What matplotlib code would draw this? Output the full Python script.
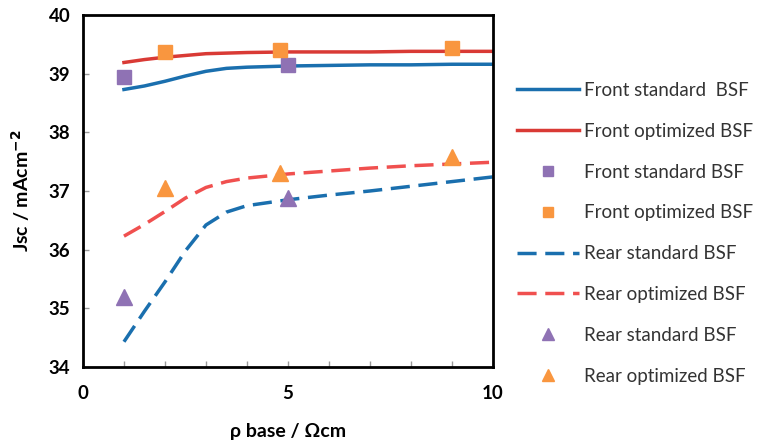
import numpy as np
import matplotlib
matplotlib.use("Agg")
import matplotlib.pyplot as plt

plt.rcParams['font.family'] = ['Lato', 'DejaVu Sans']

# curves
curve_x = [1, 1.5, 2, 2.5, 3, 3.5, 4, 5, 6, 7, 8, 9, 10]
front_std_line = [38.73, 38.79, 38.87, 38.96, 39.04, 39.09, 39.11, 39.13, 39.14, 39.15, 39.15, 39.16, 39.16]
front_opt_line = [39.19, 39.24, 39.28, 39.31, 39.34, 39.35, 39.36, 39.37, 39.37, 39.37, 39.38, 39.38, 39.38]
rear_std_line = [34.43, 34.95, 35.45, 35.98, 36.42, 36.64, 36.75, 36.85, 36.93, 37.0, 37.08, 37.16, 37.24]
rear_opt_line = [36.23, 36.43, 36.65, 36.88, 37.06, 37.16, 37.22, 37.29, 37.34, 37.39, 37.43, 37.46, 37.49]

# measured points
front_std_x = [1, 5]
front_std_y = [38.95, 39.15]
front_opt_x = [2, 4.8, 9]
front_opt_y = [39.37, 39.4, 39.43]
rear_std_x = [1, 5]
rear_std_y = [35.2, 36.88]
rear_opt_x = [2, 4.8, 9]
rear_opt_y = [37.05, 37.3, 37.58]

blue = '#1a6fae'
red = '#d93a35'
red_dash = '#f0504f'
purple = '#8f72b4'
orange = '#f9963f'
dash = (0, (5.5, 2.5))

fig = plt.figure(figsize=(7.64, 4.43), dpi=100)
ax = fig.add_axes([0.1086, 0.1716, 0.5366, 0.7946])

h1, = ax.plot(curve_x, front_std_line, color=blue, lw=2.5, label='Front standard  BSF')
h2, = ax.plot(curve_x, front_opt_line, color=red, lw=2.5, label='Front optimized BSF')
h3, = ax.plot(front_std_x, front_std_y, 's', color=purple, ms=10.5, ls='none', label='Front standard BSF')
h4, = ax.plot(front_opt_x, front_opt_y, 's', color=orange, ms=10.5, ls='none', label='Front optimized BSF')
h5, = ax.plot(curve_x, rear_std_line, color=blue, lw=2.5, ls=dash, label='Rear standard BSF')
h6, = ax.plot(curve_x, rear_opt_line, color=red_dash, lw=2.5, ls=dash, label='Rear optimized BSF')
h7, = ax.plot(rear_std_x, rear_std_y, '^', color=purple, ms=11, ls='none', label='Rear standard BSF')
h8, = ax.plot(rear_opt_x, rear_opt_y, '^', color=orange, ms=11, ls='none', label='Rear optimized BSF')

ax.set_xlim(0, 10)
ax.set_ylim(34, 40)
ax.set_xticks([0, 5, 10])
ax.set_xticks(range(0, 11), minor=True)
ax.set_yticks(range(34, 41))
ax.tick_params(which='both', direction='in', length=4, color='#999999', width=1)
ax.tick_params(axis='x', which='major', pad=13)
ax.tick_params(axis='y', which='major', pad=9)
for lab in ax.get_xticklabels() + ax.get_yticklabels():
    lab.set_fontsize(13.5)
    lab.set_fontweight('bold')
for s in ax.spines.values():
    s.set_linewidth(2)
    s.set_color('black')

ax.set_xlabel('ρ base / Ωcm', fontsize=14, fontweight='bold', labelpad=15)
ax.set_ylabel('Jsc / mAcm$^{\\mathbf{-2}}$', fontsize=14, fontweight='bold', labelpad=12)

fig.legend(handles=[h1, h2, h3, h4, h5, h6, h7, h8], loc='upper left',
           bbox_to_anchor=(0.655, 0.853), frameon=False, fontsize=13.5,
           handlelength=3.3, labelspacing=1.27, handletextpad=0.25,
           markerscale=0.75, labelcolor='#333333')

fig.savefig('out.png', dpi=100)
